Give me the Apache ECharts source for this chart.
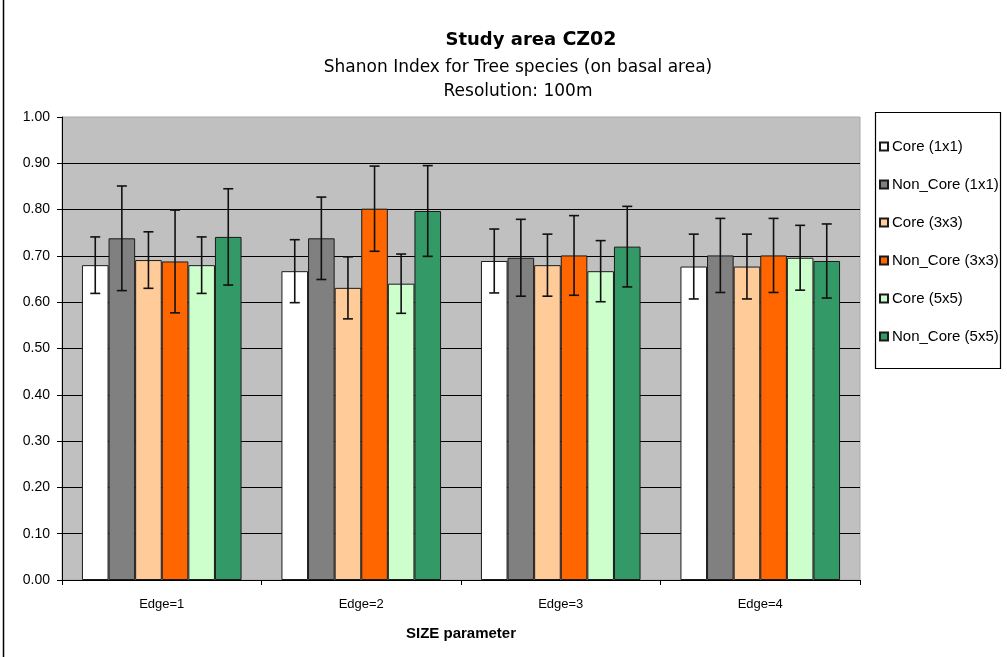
<!DOCTYPE html>
<html>
<head>
<meta charset="utf-8">
<script src="https://cdn.jsdelivr.net/npm/echarts@6/dist/echarts.min.js"></script>
<style>
  html, body { margin: 0; padding: 0; background: #fff; }
  #chart { width: 1007px; height: 657px; }
</style>
</head>
<body>
<div id="chart"></div>
<script>
// Shannon index per SIZE parameter, mean values with standard deviation
const categories = ['Edge=1', 'Edge=2', 'Edge=3', 'Edge=4'];
const seriesNames = ['Core (1x1)', 'Non_Core (1x1)', 'Core (3x3)', 'Non_Core (3x3)', 'Core (5x5)', 'Non_Core (5x5)'];
const yTicks = [0, 0.1, 0.2, 0.3, 0.4, 0.5, 0.6, 0.7, 0.8, 0.9, 1.0];

const core1x1    = [0.680, 0.667, 0.689, 0.677];
const nonCore1x1 = [0.738, 0.738, 0.696, 0.701];
const core3x3    = [0.691, 0.631, 0.680, 0.677];
const nonCore3x3 = [0.688, 0.802, 0.701, 0.701];
const core5x5    = [0.680, 0.640, 0.667, 0.696];
const nonCore5x5 = [0.741, 0.797, 0.720, 0.689];

// standard deviations (half length of each error bar)
const sdCore1x1    = [0.061, 0.068, 0.069, 0.070];
const sdNonCore1x1 = [0.113, 0.089, 0.083, 0.080];
const sdCore3x3    = [0.061, 0.067, 0.067, 0.070];
const sdNonCore3x3 = [0.111, 0.092, 0.086, 0.080];
const sdCore5x5    = [0.061, 0.064, 0.066, 0.070];
const sdNonCore5x5 = [0.104, 0.098, 0.087, 0.080];

const values = [core1x1, nonCore1x1, core3x3, nonCore3x3, core5x5, nonCore5x5];
const sds = [sdCore1x1, sdNonCore1x1, sdCore3x3, sdNonCore3x3, sdCore5x5, sdNonCore5x5];
const colors = ['#FFFFFF', '#808080', '#FFCC99', '#FF6600', '#CCFFCC', '#339966'];

const BAR_CATEGORY_GAP = 0.2;
const nSeries = seriesNames.length;

const chart = echarts.init(document.getElementById('chart'));

const barSeries = seriesNames.map((name, i) => ({
  name: name,
  type: 'bar',
  barGap: '0%',
  barCategoryGap: (BAR_CATEGORY_GAP * 100) + '%',
  data: values[i],
  itemStyle: { color: colors[i], borderColor: '#1a1a1a', borderWidth: 1 },
  emphasis: { disabled: true },
  z: 2
}));

const errorSeries = seriesNames.map((name, i) => ({
  name: name + ' SD',
  type: 'custom',
  z: 5,
  silent: true,
  encode: { x: 0, y: 1 },
  data: values[i].map((v, k) => [k, v, sds[i][k]]),
  renderItem: function (params, api) {
    const k = api.value(0);
    const v = api.value(1);
    const sd = api.value(2);
    const band = api.size([1, 0])[0];
    const barW = band * (1 - BAR_CATEGORY_GAP) / nSeries;
    const base = api.coord([k, v]);
    const x = base[0] + (i - (nSeries - 1) / 2) * barW;
    const yTop = api.coord([k, v + sd])[1];
    const yBot = api.coord([k, v - sd])[1];
    const cap = 5;
    const style = { stroke: '#111', lineWidth: 1.6 };
    return {
      type: 'group',
      children: [
        { type: 'line', shape: { x1: x, y1: yTop, x2: x, y2: yBot }, style: style },
        { type: 'line', shape: { x1: x - cap, y1: yTop, x2: x + cap, y2: yTop }, style: style },
        { type: 'line', shape: { x1: x - cap, y1: yBot, x2: x + cap, y2: yBot }, style: style }
      ]
    };
  }
}));

chart.setOption({
  animation: false,
  backgroundColor: '#ffffff',
  textStyle: { fontFamily: 'Liberation Sans, Arial, sans-serif', color: '#000' },
  graphic: [
    { type: 'line', shape: { x1: 3.5, y1: 0, x2: 3.5, y2: 657 }, style: { stroke: '#000', lineWidth: 1.5 } },
    {
      type: 'text', z: 10,
      style: {
        text: '{a|Study area }{b|CZ02}',
        x: 531, y: 40, textAlign: 'center', textVerticalAlign: 'middle',
        rich: {
          a: { fontFamily: 'DejaVu Sans', fontWeight: 'bold', fontSize: 18, fill: '#000' },
          b: { fontFamily: 'DejaVu Sans', fontWeight: 'bold', fontSize: 19, fill: '#000' }
        }
      }
    },
    {
      type: 'text', z: 10,
      style: {
        text: 'Shanon Index for Tree species (on basal area)',
        x: 518, y: 68, textAlign: 'center', textVerticalAlign: 'middle',
        fontFamily: 'DejaVu Sans', fontSize: 17, fill: '#000'
      }
    },
    {
      type: 'text', z: 10,
      style: {
        text: 'Resolution: 100m',
        x: 518, y: 92, textAlign: 'center', textVerticalAlign: 'middle',
        fontFamily: 'DejaVu Sans', fontSize: 17, fill: '#000'
      }
    },
    {
      type: 'rect', z: 0,
      shape: { x: 875.5, y: 112.5, width: 125, height: 256 },
      style: { fill: '#fff', stroke: '#000', lineWidth: 1.2 }
    }
  ],
  legend: {
    data: seriesNames,
    orient: 'vertical',
    left: 879,
    top: 139,
    padding: 0,
    itemGap: 23,
    itemWidth: 8,
    itemHeight: 8,
    icon: 'rect',
    textStyle: { fontSize: 15, color: '#000', fontFamily: 'Liberation Sans', padding: [0, 0, 0, -1] },
    selectedMode: false,
    z: 3
  },
  grid: {
    left: 62, right: 147, top: 117, bottom: 77,
    show: true, backgroundColor: '#C0C0C0', borderColor: '#a8a8a8', borderWidth: 1
  },
  xAxis: {
    type: 'category',
    data: categories,
    axisLine: { lineStyle: { color: '#000', width: 1 } },
    axisTick: { show: true, length: 5, lineStyle: { color: '#000' } },
    axisLabel: { fontSize: 13, color: '#000', margin: 18, fontFamily: 'Liberation Sans Narrow, Liberation Sans' },
    name: 'SIZE parameter',
    nameLocation: 'middle',
    nameGap: 46,
    nameTextStyle: { fontSize: 15, fontWeight: 'bold', color: '#000', fontFamily: 'Liberation Sans Narrow, Liberation Sans' }
  },
  yAxis: {
    type: 'value',
    min: yTicks[0],
    max: yTicks[yTicks.length - 1],
    interval: 0.1,
    axisLine: { show: true, lineStyle: { color: '#000', width: 1 } },
    axisTick: { show: true, length: 5, lineStyle: { color: '#000' } },
    axisLabel: { fontSize: 14, color: '#000', margin: 12, formatter: v => v.toFixed(2) },
    splitLine: { show: true, showMaxLine: false, lineStyle: { color: '#000', width: 1 } }
  },
  series: barSeries.concat(errorSeries)
});
</script>
</body>
</html>
